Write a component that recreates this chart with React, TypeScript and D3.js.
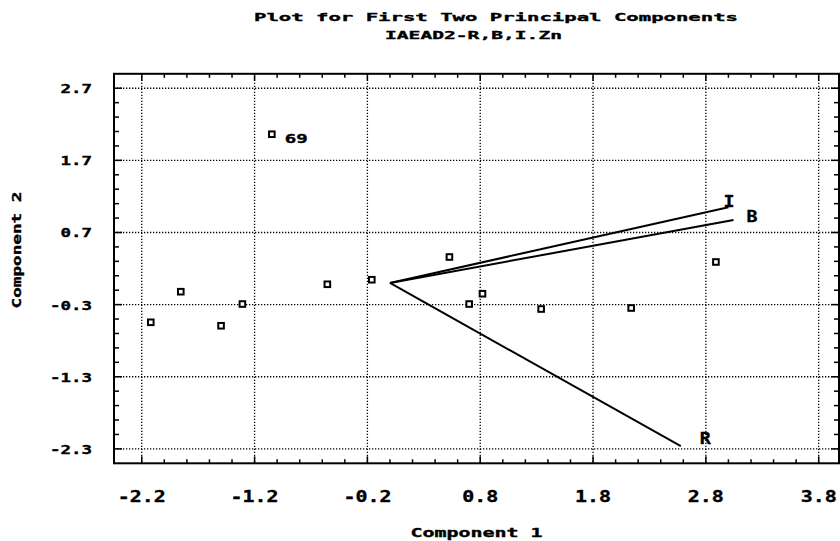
import React from "react";
import * as d3 from "d3";

// Principal-component scores (Component 1, Component 2) for each sample
const scoreX = [-2.12, -1.854, -1.497, -1.308, -1.047, -0.555, -0.161, 0.527, 0.702, 0.82, 1.34, 2.138, 2.889];
const scoreY = [-0.545, -0.121, -0.593, -0.292, 2.062, -0.018, 0.045, 0.36, -0.292, -0.149, -0.361, -0.347, 0.291];
const scoreLabels = ["", "", "", "", "69", "", "", "", "", "", "", "", ""];

// Variable loadings drawn as rays from the origin
const loadingNames = ["I", "B", "R"];
const loadingX = [3.0, 3.045, 2.578];
const loadingY = [1.05, 0.873, -2.261];

// Axis ticks
const xTicks = [-2.2, -1.2, -0.2, 0.8, 1.8, 2.8, 3.8];
const xTickLabels = ["-2.2", "-1.2", "-0.2", "0.8", "1.8", "2.8", "3.8"];
const yTicks = [2.7, 1.7, 0.7, -0.3, -1.3, -2.3];
const yTickLabels = ["2.7", "1.7", "0.7", "-0.3", "-1.3", "-2.3"];

const titleLines = ["Plot for First Two Principal Components", "IAEAD2-R,B,I.Zn"];
const xTitle = "Component 1";
const yTitle = "Component 2";

const FONT = "'DejaVu Sans Mono', 'Liberation Mono', monospace";
const INK = "#000";

type TxtProps = {
  x: number;
  y: number;
  text: string;
  size: number;
  len: number;
  anchor?: "start" | "middle" | "end";
  transform?: string;
};

// Wide plotter-style lettering: glyphs stretched to a fixed run length
function Txt({ x, y, text, size, len, anchor = "start", transform }: TxtProps) {
  return (
    <text
      x={x}
      y={y}
      fontFamily={FONT}
      fontWeight="bold"
      fontSize={size}
      textAnchor={anchor}
      textLength={len}
      lengthAdjust="spacingAndGlyphs"
      fill={INK}
      stroke={INK}
      strokeWidth={0.35}
      transform={transform}
    >
      {text}
    </text>
  );
}

export default function App() {
  const W = 840;
  const H = 541;
  const x = d3.scaleLinear().domain([-2.446, 3.98]).range([114, 839]);
  const y = d3.scaleLinear().domain([-2.5, 2.9]).range([463.3, 73.8]);
  const [x0, x1] = x.range();
  const [y0, y1] = y.range();

  const xMinor = d3.range(0, 31).map((i) => -2.2 + i * 0.2);
  const yMinor = d3.range(0, 26).map((i) => -2.3 + i * 0.2);

  const line = d3.line<[number, number]>().x((d) => x(d[0])).y((d) => y(d[1]));

  // label offsets for the loading rays
  const loadOffset: Record<string, [number, number]> = {
    I: [-5, -0.5],
    B: [13, 2],
    R: [19, -2],
  };

  return (
    <svg
      width={W}
      height={H}
      viewBox={`0 0 ${W} ${H}`}
      style={{ position: "absolute", left: 0, top: 0, background: "#fff" }}
    >
      <rect width={W} height={H} fill="#fff" />

      {/* dotted grid */}
      <g stroke={INK} strokeWidth={1.3} strokeDasharray="1.3 1.7">
        {xTicks.map((t) => (
          <line key={`gx${t}`} x1={x(t)} x2={x(t)} y1={y1} y2={y0} />
        ))}
        {yTicks.map((t) => (
          <line key={`gy${t}`} x1={x0} x2={x1} y1={y(t)} y2={y(t)} />
        ))}
      </g>

      {/* tick marks on all four sides */}
      <g stroke={INK} strokeWidth={1.5}>
        {xMinor.map((t, i) => {
          const len = i % 5 === 0 ? 7 : 4;
          return (
            <g key={`tx${i}`}>
              <line x1={x(t)} x2={x(t)} y1={y0} y2={y0 - len} />
              <line x1={x(t)} x2={x(t)} y1={y1} y2={y1 + len} />
            </g>
          );
        })}
        {yMinor.map((t, i) => {
          const len = i % 5 === 0 ? 8 : 5;
          return (
            <g key={`ty${i}`}>
              <line x1={x0} x2={x0 + len} y1={y(t)} y2={y(t)} />
              <line x1={x1} x2={x1 - len} y1={y(t)} y2={y(t)} />
            </g>
          );
        })}
      </g>

      {/* plot frame */}
      <rect x={x0} y={y1} width={x1 - x0} height={y0 - y1} fill="none" stroke={INK} strokeWidth={2} />

      {/* loading rays */}
      <g fill="none" stroke={INK} strokeWidth={2}>
        {loadingNames.map((n, i) => (
          <path key={`ray${n}`} d={line([[0, 0], [loadingX[i], loadingY[i]]]) || ""} />
        ))}
      </g>
      {loadingNames.map((n, i) => (
        <Txt
          key={`rl${n}`}
          x={x(loadingX[i]) + loadOffset[n][0]}
          y={y(loadingY[i]) + loadOffset[n][1]}
          text={n}
          size={15}
          len={11}
        />
      ))}

      {/* sample scores */}
      <g fill="#fff" stroke={INK} strokeWidth={2}>
        {scoreX.map((v, i) => (
          <rect key={`pt${i}`} x={x(v) - 2.8} y={y(scoreY[i]) - 2.8} width={5.6} height={5.6} />
        ))}
      </g>
      {scoreX.map((v, i) =>
        scoreLabels[i] ? (
          <Txt key={`pl${i}`} x={x(v) + 13} y={y(scoreY[i]) + 8.5} text={scoreLabels[i]} size={11.5} len={23} />
        ) : null
      )}

      {/* tick labels */}
      {xTicks.map((t, i) => (
        <Txt
          key={`xl${t}`}
          x={x(t)}
          y={501.7}
          text={xTickLabels[i]}
          size={15}
          len={xTickLabels[i].length * 12}
          anchor="middle"
        />
      ))}
      {yTicks.map((t, i) => (
        <Txt
          key={`yl${t}`}
          x={92}
          y={y(t) + 5}
          text={yTickLabels[i]}
          size={11.5}
          len={yTickLabels[i].length * 10.5}
          anchor="end"
        />
      ))}

      {/* titles */}
      <Txt x={254} y={20.7} text={titleLines[0]} size={11} len={484} />
      <Txt x={385} y={39} text={titleLines[1]} size={11} len={177} />
      <Txt x={(x0 + x1) / 2} y={537} text={xTitle} size={12} len={132} anchor="middle" />
      <Txt
        x={0}
        y={0}
        text={yTitle}
        size={12.5}
        len={117}
        anchor="middle"
        transform={`translate(21,250) rotate(-90)`}
      />
    </svg>
  );
}
